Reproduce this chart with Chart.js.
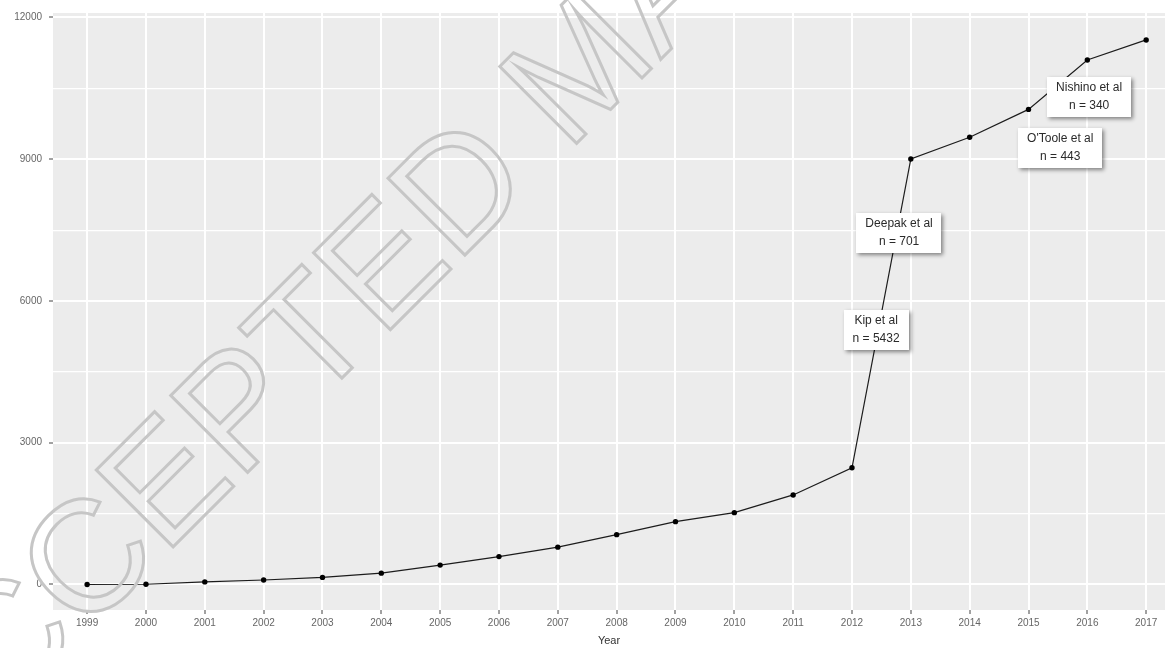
<!DOCTYPE html>
<html>
<head>
<meta charset="utf-8">
<script src="https://cdn.jsdelivr.net/npm/chart.js@4.4.1/dist/chart.umd.min.js"></script>
<style>
  html, body { margin: 0; padding: 0; background: #fff; overflow: hidden; }
</style>
</head>
<body>
<canvas id="pubChart" width="1169" height="648"></canvas>
<script>
// cumulative publications per year
const years = [1999, 2000, 2001, 2002, 2003, 2004, 2005, 2006, 2007, 2008, 2009, 2010, 2011, 2012, 2013, 2014, 2015, 2016, 2017];
const counts = [0, 5, 55, 95, 150, 240, 410, 590, 790, 1055, 1330, 1520, 1895, 2470, 9005, 9465, 10055, 11100, 11525];

const yGridValues = [0, 1500, 3000, 4500, 6000, 7500, 9000, 10500, 12000];
const yLabelStep = 3000;

// study call-outs (anchored in data units)
const studyNames = ['Kip et al', 'Deepak et al', "O'Toole et al", 'Nishino et al'];
const studySizes = ['n = 5432', 'n = 701', 'n = 443', 'n = 340'];
const studyYear = [2012.41, 2012.80, 2015.54, 2016.03];
const studyCount = [5386, 7439, 9238, 10317];

const watermark = 'ACCEPTED MANUSCRIPT';

const panelBg = {
    id: 'panelBg',
    beforeDraw(chart) {
        const { ctx, chartArea: a } = chart;
        ctx.save();
        ctx.fillStyle = '#ECECEC';
        ctx.fillRect(a.left, a.top, a.right - a.left, a.bottom - a.top);
        ctx.restore();
    }
};

const callouts = {
    id: 'callouts',
    afterDatasetsDraw(chart) {
        const { ctx, scales: { x, y } } = chart;
        const pad = 9, h = 40;
        ctx.save();
        ctx.font = '12px "Liberation Sans", Arial, sans-serif';
        studyNames.forEach((name, i) => {
            const cx = x.getPixelForValue(studyYear[i]);
            const cy = y.getPixelForValue(studyCount[i]);
            const w = Math.max(ctx.measureText(name).width, ctx.measureText(studySizes[i]).width) + pad * 2;
            ctx.shadowColor = 'rgba(0,0,0,0.45)';
            ctx.shadowBlur = 4;
            ctx.shadowOffsetX = 2;
            ctx.shadowOffsetY = 2;
            ctx.fillStyle = '#ffffff';
            ctx.fillRect(Math.round(cx - w / 2), Math.round(cy - h / 2), Math.round(w), h);
            ctx.shadowColor = 'rgba(0,0,0,0)';
            ctx.fillStyle = '#2a2a2a';
            ctx.textAlign = 'center';
            ctx.textBaseline = 'middle';
            ctx.fillText(name, cx, cy - 9);
            ctx.fillText(studySizes[i], cx, cy + 9);
        });
        ctx.restore();
    }
};

const stamp = {
    id: 'stamp',
    afterDraw(chart) {
        const ctx = chart.ctx;
        ctx.save();
        ctx.translate(-72, 792);
        ctx.rotate(-Math.PI / 4);
        ctx.font = '158px "Liberation Sans", Arial, sans-serif';
        ctx.lineWidth = 3;
        ctx.lineJoin = 'miter';
        ctx.strokeStyle = '#c6c6c6';
        ctx.strokeText(watermark, 0, 0);
        ctx.restore();
    }
};

const ctx = document.getElementById('pubChart').getContext('2d');
new Chart(ctx, {
    type: 'line',
    data: {
        datasets: [{
            data: years.map((yr, i) => ({ x: yr, y: counts[i] })),
            borderColor: '#1c1c1c',
            borderWidth: 1.2,
            pointRadius: 2.7,
            pointBackgroundColor: '#000',
            pointBorderWidth: 0,
            tension: 0,
            clip: false
        }]
    },
    options: {
        responsive: false,
        animation: false,
        layout: { padding: { top: 13, left: 0, right: 0, bottom: 0 } },
        plugins: {
            legend: { display: false },
            tooltip: { enabled: false }
        },
        scales: {
            x: {
                type: 'linear',
                min: 1998.42,
                max: 2017.32,
                afterBuildTicks: scale => { scale.ticks = years.map(v => ({ value: v })); },
                afterFit: scale => { scale.height = 38; },
                border: { display: false },
                grid: {
                    color: '#ffffff',
                    lineWidth: 2,
                    tickColor: '#444',
                    tickLength: 4,
                    tickWidth: 1
                },
                ticks: {
                    autoSkip: false,
                    maxRotation: 0,
                    padding: 3,
                    color: '#666',
                    font: { family: '"Liberation Sans", Arial, sans-serif', size: 10 },
                    callback: v => String(v)
                },
                title: {
                    display: true,
                    text: 'Year',
                    color: '#333',
                    padding: { top: 0, bottom: 0 },
                    font: { family: '"Liberation Sans", Arial, sans-serif', size: 11 }
                }
            },
            y: {
                type: 'linear',
                min: -540,
                max: 12095,
                afterBuildTicks: scale => { scale.ticks = yGridValues.map(v => ({ value: v })); },
                afterFit: scale => { scale.width = 53; },
                border: { display: false },
                grid: {
                    color: '#ffffff',
                    lineWidth: c => (c.tick && c.tick.value % yLabelStep === 0) ? 2 : 1.2,
                    tickColor: c => (c.tick && c.tick.value % yLabelStep === 0) ? '#444' : 'rgba(0,0,0,0)',
                    tickLength: 4,
                    tickWidth: 1
                },
                ticks: {
                    autoSkip: false,
                    padding: 7,
                    color: '#666',
                    font: { family: '"Liberation Sans", Arial, sans-serif', size: 10 },
                    callback: v => (v % yLabelStep === 0 ? String(v) : '')
                }
            }
        }
    },
    plugins: [panelBg, callouts, stamp]
});
</script>
</body>
</html>
